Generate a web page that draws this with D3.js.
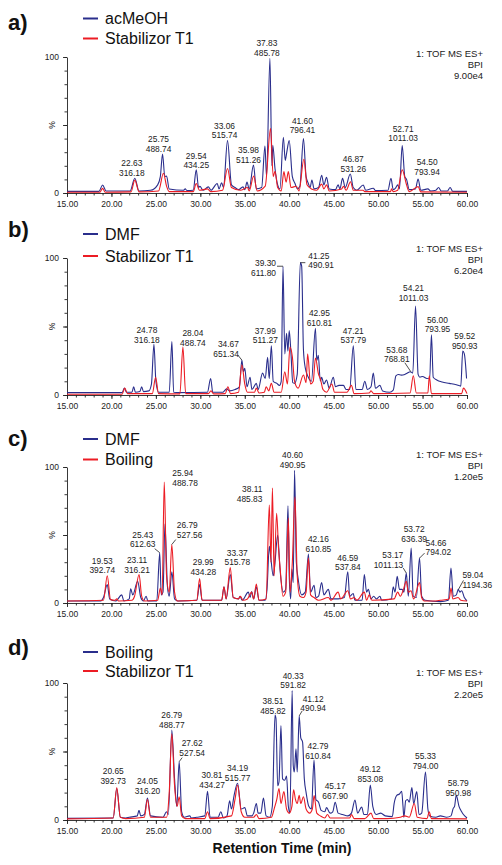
<!DOCTYPE html>
<html><head><meta charset="utf-8">
<script src="https://cdn.jsdelivr.net/npm/d3@7"></script>
<style>body{margin:0;background:#fff} svg{display:block}</style>
</head><body>
<svg id="c" width="502" height="865"></svg>
<script>
// ---------- DATA ----------
const xTickValues = [15,20,25,30,35,40,45,50,55,60];
const panelLetters = ["a)","b)","c)","d)"];
const legendNames = [["acMeOH","Stabilizor T1"],["DMF","Stabilizor T1"],["DMF","Boiling"],["Boiling","Stabilizor T1"]];
const headerLines = ["1: TOF MS ES+","BPI"];
const bpiValues = ["9.00e4","6.20e4","1.20e5","2.20e5"];

// [retention time (min), intensity (%)]
const traceA_acMeOH = [[15,1.2],[18.6,1.2],[19.0,5.9],[19.4,1.5],[22.1,1.5],[22.63,10.8],[23.1,1.5],[24.4,2],[25.2,6],[25.5,12],[25.75,28.7],[26.0,12],[26.2,12.5],[26.5,3],[28.1,2],[28.3,3],[28.5,1.8],[29.2,2],[29.54,17],[29.8,4],[29.95,5],[30.3,2],[30.9,4.5],[31.2,2],[31.9,7],[32.1,3],[32.4,7.5],[32.6,4],[33.06,38.5],[33.5,6],[33.9,4],[34.3,2.5],[34.8,4.5],[35.0,2.5],[35.25,8],[35.5,3],[35.98,20.6],[36.3,3],[36.9,4],[37.27,34.5],[37.45,12],[37.83,99],[38.05,20],[38.15,35],[38.4,18],[38.7,6],[38.96,3],[39.34,41],[39.55,24],[39.7,29],[40.0,38.5],[40.35,12],[40.65,7],[40.9,3],[41.2,5],[41.6,40],[41.9,12],[42.15,7],[42.35,4],[42.55,9.6],[42.8,3],[43.3,4],[43.65,13],[43.9,6],[44.2,11.5],[44.5,3],[45.2,2.5],[45.5,6],[45.7,3],[46.0,10.8],[46.3,4],[46.87,14],[47.2,4],[47.6,2],[48.33,5.9],[48.6,2],[49.46,3.5],[49.7,1.8],[51.1,2],[51.45,10.8],[51.7,2.5],[52.0,4],[52.2,6],[52.4,3],[52.71,34.8],[53.0,12],[53.2,10],[53.5,2.5],[54.2,3],[54.5,10.3],[54.8,2],[55.6,3],[55.9,1.5],[56.5,2],[56.8,4],[57.1,1.5],[57.8,1.5],[58.1,4],[58.4,1.2],[60,1.2]];
const traceA_T1 = [[15,0.6],[18.7,0.6],[19.0,3.4],[19.3,0.6],[22.2,0.8],[22.63,9.5],[23.1,0.8],[25.3,1.5],[25.85,14.5],[26.2,5],[26.5,1],[29.2,1],[29.54,7],[29.9,2],[30.8,3],[31.2,1],[32.5,2],[33.06,18],[33.5,4],[34.5,2],[35.3,4],[35.5,1.5],[36.0,12.5],[36.4,1.5],[37.3,5],[37.9,47.5],[38.2,12],[38.4,16],[38.7,4],[39.1,1.5],[39.4,15.7],[39.65,8],[39.9,15.7],[40.2,4],[40.8,5],[41.1,1.5],[41.65,24.8],[42.0,6],[42.5,3],[43.1,2],[43.65,6.5],[43.9,3],[44.2,6],[44.5,1.5],[45.9,3],[46.1,5],[46.4,2],[46.9,8.3],[47.2,2],[48.3,2],[48.5,1],[51.4,1],[51.5,3],[51.7,1],[52.2,2],[52.71,17],[53.2,6],[53.5,1],[54.5,4.7],[54.8,0.8],[60,0.6]];

const traceB_DMF = [[15,1.7],[21.2,1.7],[21.45,5],[21.7,2],[22.3,2],[22.5,6],[22.7,2],[23.2,2.5],[23.4,6],[23.6,2.5],[24.2,3],[24.5,8],[24.78,37],[25.0,10],[25.3,2],[26.5,2],[26.8,39],[27.0,2],[27.6,1.7],[30.8,2],[31.16,12],[31.4,2],[32.5,2],[32.96,4.5],[33.3,3],[33.9,4],[34.4,6],[34.67,25.5],[34.85,17],[35.0,19.5],[35.25,6],[35.6,13],[35.8,4],[36.3,8.5],[36.5,4],[37.0,16],[37.3,12],[37.57,27.5],[37.75,12],[37.99,36],[38.2,10],[38.6,8.5],[38.9,7],[39.1,10],[39.3,94],[39.5,30],[39.7,45],[39.85,32],[40.0,47],[40.2,30],[40.4,9],[40.6,8.5],[40.9,15],[41.25,96.6],[41.4,94],[41.6,33],[41.8,20],[42.15,13],[42.5,10],[42.95,48.7],[43.1,25],[43.27,29],[43.5,10],[43.65,13],[43.9,8],[44.2,11],[44.5,5],[44.96,13],[45.2,6],[45.6,7],[46.1,7],[46.4,4],[46.8,4],[47.21,36],[47.5,4],[48.2,4],[48.5,10],[48.8,4],[49.2,6],[49.46,16],[49.7,5],[50.2,7],[50.5,3],[51.3,2],[51.7,3.5],[52.0,14],[52.27,15],[52.6,14.5],[53.0,15],[53.3,16],[53.6,17],[53.9,16],[54.21,65],[54.5,15],[54.7,13],[55.0,13.5],[55.5,12],[55.8,12.5],[56.0,44],[56.2,13],[56.6,11],[57.2,9.5],[58.0,8.5],[58.8,7.5],[59.3,6.5],[59.52,32],[59.7,30],[59.95,12]];
const traceB_T1 = [[15,0.6],[21.2,0.6],[21.5,5],[21.8,1],[24.6,1],[24.97,13],[25.3,1],[27.7,0.8],[28.04,35],[28.35,1],[30.9,1],[31.2,3],[31.5,0.8],[32.8,1],[33.1,6],[33.4,1],[34.3,2],[34.67,22],[35.0,8],[35.3,2],[36.1,2],[36.3,5],[36.6,1.5],[37.2,2],[37.4,6],[37.7,3],[37.99,8.5],[38.3,2],[39.1,2],[39.5,17],[39.8,8],[40.08,35],[40.35,28],[40.6,10],[41.0,5],[41.6,14.6],[41.9,9],[42.07,30],[42.4,8],[42.7,10],[42.95,27],[43.3,15],[43.5,12],[43.8,4],[44.2,2],[44.8,8],[45.1,2],[46.5,2],[47.0,7],[47.3,1],[49.0,1.5],[49.2,3],[49.5,1],[53.6,1.5],[53.96,14],[54.3,1.5],[55.6,1.5],[55.76,14],[56.0,1],[59.4,1],[59.6,5],[60,1]];

const traceC_DMF = [[15,1.5],[18.8,1.5],[19.1,4],[19.53,13.5],[19.8,3],[20.5,1.5],[21.15,6],[21.4,1.5],[22.0,3],[22.16,10.5],[22.4,6],[22.95,16],[23.3,4],[23.6,1.5],[23.9,5],[24.1,1.5],[25.1,1.5],[25.43,37],[25.6,6],[25.8,8],[26.02,58],[26.3,12],[26.5,5],[26.8,23],[27.1,3],[27.5,1.5],[29.6,2],[29.92,13.5],[30.2,2],[32.4,2],[32.66,12],[32.9,3],[33.37,21],[33.7,4],[34.3,3],[34.46,5],[34.7,2],[35.4,8],[35.6,4],[35.77,8.5],[36.0,3],[36.3,12],[36.6,2],[37.3,2],[37.5,10],[37.76,41.7],[37.9,35],[38.2,20],[38.4,30],[38.7,50],[38.96,25],[39.33,8],[39.6,10],[39.86,71.5],[40.0,20],[40.16,3],[40.3,25],[40.45,15],[40.6,97.5],[40.8,30],[41.0,18],[41.4,6],[41.8,8],[42.16,36],[42.4,8],[42.8,13],[43.0,4],[43.3,5],[43.65,15],[43.9,6],[44.4,10],[44.7,3],[45.5,3],[46.2,4],[46.59,23],[46.8,5],[47.2,7],[47.4,2],[48.2,2],[48.45,21],[48.7,8],[48.9,10],[49.2,3],[49.5,5],[49.8,3],[50.2,5],[50.4,2],[51.5,3],[51.7,12],[51.9,8],[52.15,19.6],[52.4,10],[52.7,10],[52.9,8],[53.17,22],[53.4,5],[53.72,40.4],[53.95,5],[54.3,4],[54.66,33],[54.9,5],[55.3,2],[57.0,1],[57.9,2],[58.2,25.7],[58.45,5],[58.8,6],[59.02,10],[59.2,8],[59.4,9],[59.7,4],[60,1.5]];
const traceC_Boiling = [[15,1.5],[19.1,2],[19.53,20],[19.9,2.5],[20.4,2],[20.6,3],[20.8,1.5],[22.3,2],[22.6,5],[23.11,21],[23.4,5],[23.7,1.5],[25.2,2],[25.5,11],[25.7,6],[25.94,89],[26.2,20],[26.5,8],[26.79,43],[27.1,8],[27.4,1.5],[29.6,2],[29.92,18],[30.2,2],[32.4,2],[32.66,12],[32.9,3],[33.37,26],[33.7,4],[34.3,3],[34.5,5],[34.8,2],[35.3,3],[35.77,8],[36.0,3],[36.3,14],[36.6,2],[37.4,3],[37.76,72],[37.95,30],[38.11,84.5],[38.3,20],[38.58,66],[38.8,40],[38.96,27],[39.3,5],[39.6,8],[39.9,62.5],[40.1,8],[40.35,30],[40.65,78],[40.9,20],[41.2,5],[41.6,4],[41.9,8],[42.16,33],[42.4,6],[42.8,4],[43.3,2],[44.4,4],[44.7,2],[45.5,8],[45.8,3],[46.59,9],[46.9,3],[47.3,4],[47.6,2],[48.45,8],[48.7,2],[49.0,6],[49.3,2],[51.8,3],[52.2,8],[52.5,5],[52.8,9],[53.17,16],[53.4,8],[53.7,9],[54.0,3],[54.66,15],[54.9,4],[55.2,1.5],[56.5,1.5],[57.0,2],[58.0,3],[58.2,11],[58.4,3],[59.0,4],[59.3,2],[60,1.5]];

const traceD_Boiling = [[15,1.2],[20.2,1.5],[20.6,23],[21.0,2],[21.6,1.5],[22.0,2],[22.9,3],[23.1,7],[23.3,3],[23.7,4],[24.05,16],[24.4,3],[25.8,2],[26.2,6],[26.4,4],[26.79,65.7],[27.1,30],[27.35,10],[27.62,42.6],[27.9,6],[28.2,2],[28.8,3],[29.0,1.5],[29.6,2],[30.5,3],[30.81,21],[31.1,2],[32.0,2],[32.3,6],[32.6,1.5],[33.0,3],[33.3,14],[33.5,8],[33.8,18],[34.19,26.8],[34.6,8],[35.0,9],[35.3,3],[35.8,3],[36.0,5],[36.3,12],[36.5,5],[36.8,5],[37.1,16],[37.4,3],[37.8,2],[38.1,10],[38.4,76.6],[38.51,74],[38.7,25],[38.85,28],[39.07,69],[39.25,30],[39.5,29],[39.7,32],[39.9,10],[40.08,5],[40.33,94.4],[40.45,40],[40.57,35],[40.76,52],[40.9,35],[41.12,76],[41.3,60],[41.5,57],[41.7,30],[41.9,20],[42.2,10],[42.5,8],[42.79,43.8],[43.0,15],[43.3,13],[43.6,7],[44.0,6],[44.2,9],[44.6,5],[44.9,6],[45.17,13],[45.5,5],[46.0,4],[46.6,3],[47.0,5],[47.4,14.6],[47.7,5],[48.15,9.5],[48.4,4],[48.8,4],[49.12,25.5],[49.4,10],[49.8,4],[50.3,5],[50.8,3],[51.6,2.5],[51.8,12],[52.1,18],[52.4,19],[52.65,21],[52.8,10],[52.9,2],[53.1,14],[53.3,15],[53.5,13],[53.8,23.6],[54.0,12],[54.35,20.7],[54.6,4],[54.9,5],[55.33,35],[55.6,8],[55.8,3],[56.5,2],[57.0,3],[57.7,2],[58.2,3],[58.45,8.5],[58.6,10],[58.79,18],[59.1,10],[59.4,6],[59.6,4],[60,1.5]];
const traceD_T1 = [[15,0.8],[20.2,1.5],[20.6,23.6],[21.0,2],[21.6,1],[23.7,2],[24.05,15],[24.4,2],[26.2,2],[26.5,20],[26.79,63],[27.1,25],[27.4,10],[27.62,17],[27.9,3],[28.3,1],[30.5,1],[30.81,6],[31.1,1],[33.5,3],[33.9,15],[34.19,25.5],[34.6,6],[35.0,2],[36.0,2],[36.3,4],[36.6,1],[38.0,2],[38.3,8],[38.6,15],[38.85,23],[39.07,12],[39.4,20.7],[39.7,8],[40.0,5],[40.3,10],[40.5,22],[40.7,15],[40.9,12],[41.12,18],[41.3,12],[41.6,17],[41.9,8],[42.3,5],[42.6,8],[42.8,17.8],[43.1,5],[43.5,3],[44.0,1.5],[44.3,4],[44.6,1.5],[45.5,1.5],[46.8,1.5],[47.0,4],[47.3,1],[48.5,1],[49.2,5],[49.5,1],[51.0,1],[52.5,2],[53.0,3],[53.5,2],[54.07,12],[54.4,2],[55.5,1],[55.75,6],[56.0,1],[60,0.8]];

// peak labels: [rt text, m/z text, apex intensity %]
const labelsA = [["22.63","316.18",10.8],["25.75","488.74",28.7],["29.54","434.25",17],["33.06","515.74",38.5],["35.98","511.26",20.6],["37.83","485.78",99],["41.60","796.41",40],["46.87","531.26",14],["52.71","1011.03",34.8],["54.50","793.94",10.3]];
const labelsB = [["24.78","316.18",37],["28.04","488.74",35],["34.67","651.34",25.5],["37.99","511.27",36],["39.30","611.80",94],["41.25","490.91",96.6],["42.95","610.81",48.7],["47.21","537.79",36],["53.68","768.81",17],["54.21","1011.03",65],["56.00","793.95",44],["59.52","950.93",32]];
const labelsC = [["19.53","392.74",20],["23.11","316.21",21],["25.43","612.63",37],["25.94","488.78",89],["26.79","527.56",43],["29.99","434.28",18],["33.37","515.78",26],["38.11","485.83",84.5],["40.60","490.95",97.5],["42.16","610.85",36],["46.59","537.84",23],["53.17","1011.13",22],["53.72","636.39",40.4],["54.66","794.02",33],["59.04","1194.36",10]];
const labelsD = [["20.65","392.73",23],["24.05","316.20",16],["26.79","488.77",65.7],["27.62","527.54",42.6],["30.81","434.27",21],["34.19","515.77",26.8],["38.51","485.82",76.6],["40.33","591.82",94.4],["41.12","490.94",76],["42.79","610.84",43.8],["45.17","667.90",13],["49.12","853.08",25.5],["55.33","794.00",35],["58.79","950.98",18]];

// ---------- LAYOUT (pixel offsets, not data) ----------
// [dx, dy, anchor, leaderDx, leaderDy]
const layoutA = [[-3,0],[-4,0],[0,1],[-3,0],[-5,0],[-3,0],[-1,-3],[3,0],[1,-2],[9,-2]];
const layoutB = [[-7,1],[10,1],[-3,-1,"end",-4,-5],[-6,0],[-7,12,"end",-6,0],[8,8,"start",5,0],[4,0],[0,0],[-14,-7,"middle",-6,-9],[-2,-3],[6,0],[2,0]];
const layoutC = [[-5,0],[-2,1],[-17,-3,"middle",-5,-4],[8,6,"start"],[5,-4.5,"start",4,-5],[3,-1.5],[7,0],[-10,16,"end"],[-2,0],[10,0],[0,1],[-3,-3,"end",-3,-5],[3,-4],[6,-0.5,"start",5,-5],[4,1,"start",5,-9]];
const layoutD = [[-4,-2.5],[0,-2],[0,0],[13,-3.6,"middle",3,-4],[4.5,-1],[0,0],[-3,1],[1,0],[14,-2,"middle",3,-5],[4,1],[0,-1],[0,-1],[0,-1],[2,3]];

const panels = [
  {s1:traceA_acMeOH, s2:traceA_T1, labels:labelsA, layout:layoutA, y100:57, y0:193, letterY:30, legY:[18.5,38.5], headY:57},
  {s1:traceB_DMF, s2:traceB_T1, labels:labelsB, layout:layoutB, y100:258, y0:395, letterY:237, legY:[234,256], headY:252},
  {s1:traceC_DMF, s2:traceC_Boiling, labels:labelsC, layout:layoutC, y100:467, y0:603, letterY:446, legY:[439,459.5], headY:458},
  {s1:traceD_Boiling, s2:traceD_T1, labels:labelsD, layout:layoutD, y100:683, y0:820, letterY:655, legY:[652,671], headY:676}
];

const BLUE = "#2a2e8c", RED = "#ec1c24", INK = "#222";
const FONT = "'Liberation Sans', Arial, Helvetica, sans-serif";
const LBL_SIZE = 8.4, LBL_GAP = 9.7;
const svg = d3.select("#c");
const x = d3.scaleLinear().domain([15,60]).range([67,467]);

panels.forEach((p, i) => {
  const y = d3.scaleLinear().domain([0,100]).range([p.y0, p.y100]);
  const g = svg.append("g");

  // minor x ticks
  g.append("g").attr("transform", `translate(0,${p.y0})`)
    .call(d3.axisBottom(x).tickValues(d3.range(15,61,1)).tickSize(2.5).tickSizeOuter(0).tickFormat(""))
    .call(a => a.select(".domain").remove());
  // major x ticks
  const xa = g.append("g").attr("transform", `translate(0,${p.y0})`)
    .call(d3.axisBottom(x).tickValues(xTickValues).tickSize(4).tickSizeOuter(0).tickPadding(4).tickFormat(d => d.toFixed(2)));
  xa.selectAll("text").attr("font-size", 8.5).attr("font-family", FONT).attr("fill", INK);

  // minor y ticks
  g.append("g").attr("transform", `translate(67,0)`)
    .call(d3.axisLeft(y).tickValues(d3.range(0,101,10)).tickSize(2.5).tickSizeOuter(0).tickFormat(""))
    .call(a => a.select(".domain").remove());
  const ya = g.append("g").attr("transform", `translate(67,0)`)
    .call(d3.axisLeft(y).tickValues([0,50,100]).tickSize(4).tickSizeOuter(0).tickPadding(4).tickFormat(d => d === 50 ? "" : d));
  ya.selectAll("text").attr("font-size", 8.5).attr("font-family", FONT).attr("fill", INK);
  svg.selectAll(".domain, .tick line").attr("stroke", INK).attr("stroke-width", 0.9);

  g.append("text").attr("transform", `translate(55,${y(50)}) rotate(-90)`)
    .attr("text-anchor", "middle").attr("font-size", 8.5).attr("font-family", FONT).attr("fill", INK).text("%");

  // traces
  const line = d3.line().x(d => x(d[0])).y(d => y(d[1])).curve(d3.curveMonotoneX);
  g.append("path").datum(p.s1).attr("d", line).attr("fill", "none").attr("stroke", BLUE).attr("stroke-width", 1.1).attr("stroke-linejoin", "round");
  g.append("path").datum(p.s2).attr("d", line).attr("fill", "none").attr("stroke", RED).attr("stroke-width", 1.1).attr("stroke-linejoin", "round");

  // peak labels
  p.labels.forEach((lb, j) => {
    const L = p.layout[j] || [0,0];
    const px = x(+lb[0]), py = y(lb[2]);
    const tx = px + L[0], ty = py - 2.4 + L[1];
    const anchor = L[2] || "middle";
    const t = g.append("text").attr("font-size", LBL_SIZE).attr("font-family", FONT).attr("fill", INK).attr("text-anchor", anchor);
    t.append("tspan").attr("x", tx).attr("y", ty - LBL_GAP).text(lb[0]);
    t.append("tspan").attr("x", tx).attr("y", ty).text(lb[1]);
    if (L[3] !== undefined) {
      g.append("line").attr("x1", px).attr("y1", py).attr("x2", px + L[3]).attr("y2", py + L[4])
        .attr("stroke", INK).attr("stroke-width", 0.8);
    }
  });

  // header
  const hd = g.append("text").attr("font-size", 9.5).attr("font-family", FONT).attr("fill", INK).attr("text-anchor", "end");
  headerLines.concat([bpiValues[i]]).forEach((s, k) => hd.append("tspan").attr("x", 483).attr("y", p.headY + k * 11).text(s));

  // panel letter
  g.append("text").attr("x", 8).attr("y", p.letterY).attr("font-size", 22).attr("font-weight", "bold")
    .attr("font-family", FONT).attr("fill", "#111").text(panelLetters[i]);

  // legend
  [BLUE, RED].forEach((c, k) => {
    g.append("line").attr("x1", 83).attr("x2", 98).attr("y1", p.legY[k]).attr("y2", p.legY[k]).attr("stroke", c).attr("stroke-width", 2);
    g.append("text").attr("x", 105).attr("y", p.legY[k] + 5.5).attr("font-size", 16).attr("font-family", FONT).attr("fill", "#111").text(legendNames[i][k]);
  });
});

svg.append("text").attr("x", 282).attr("y", 853).attr("text-anchor", "middle").attr("font-size", 14).attr("font-weight", "bold")
  .attr("font-family", FONT).attr("fill", "#111").text("Retention Time (min)");
</script>
</body></html>
